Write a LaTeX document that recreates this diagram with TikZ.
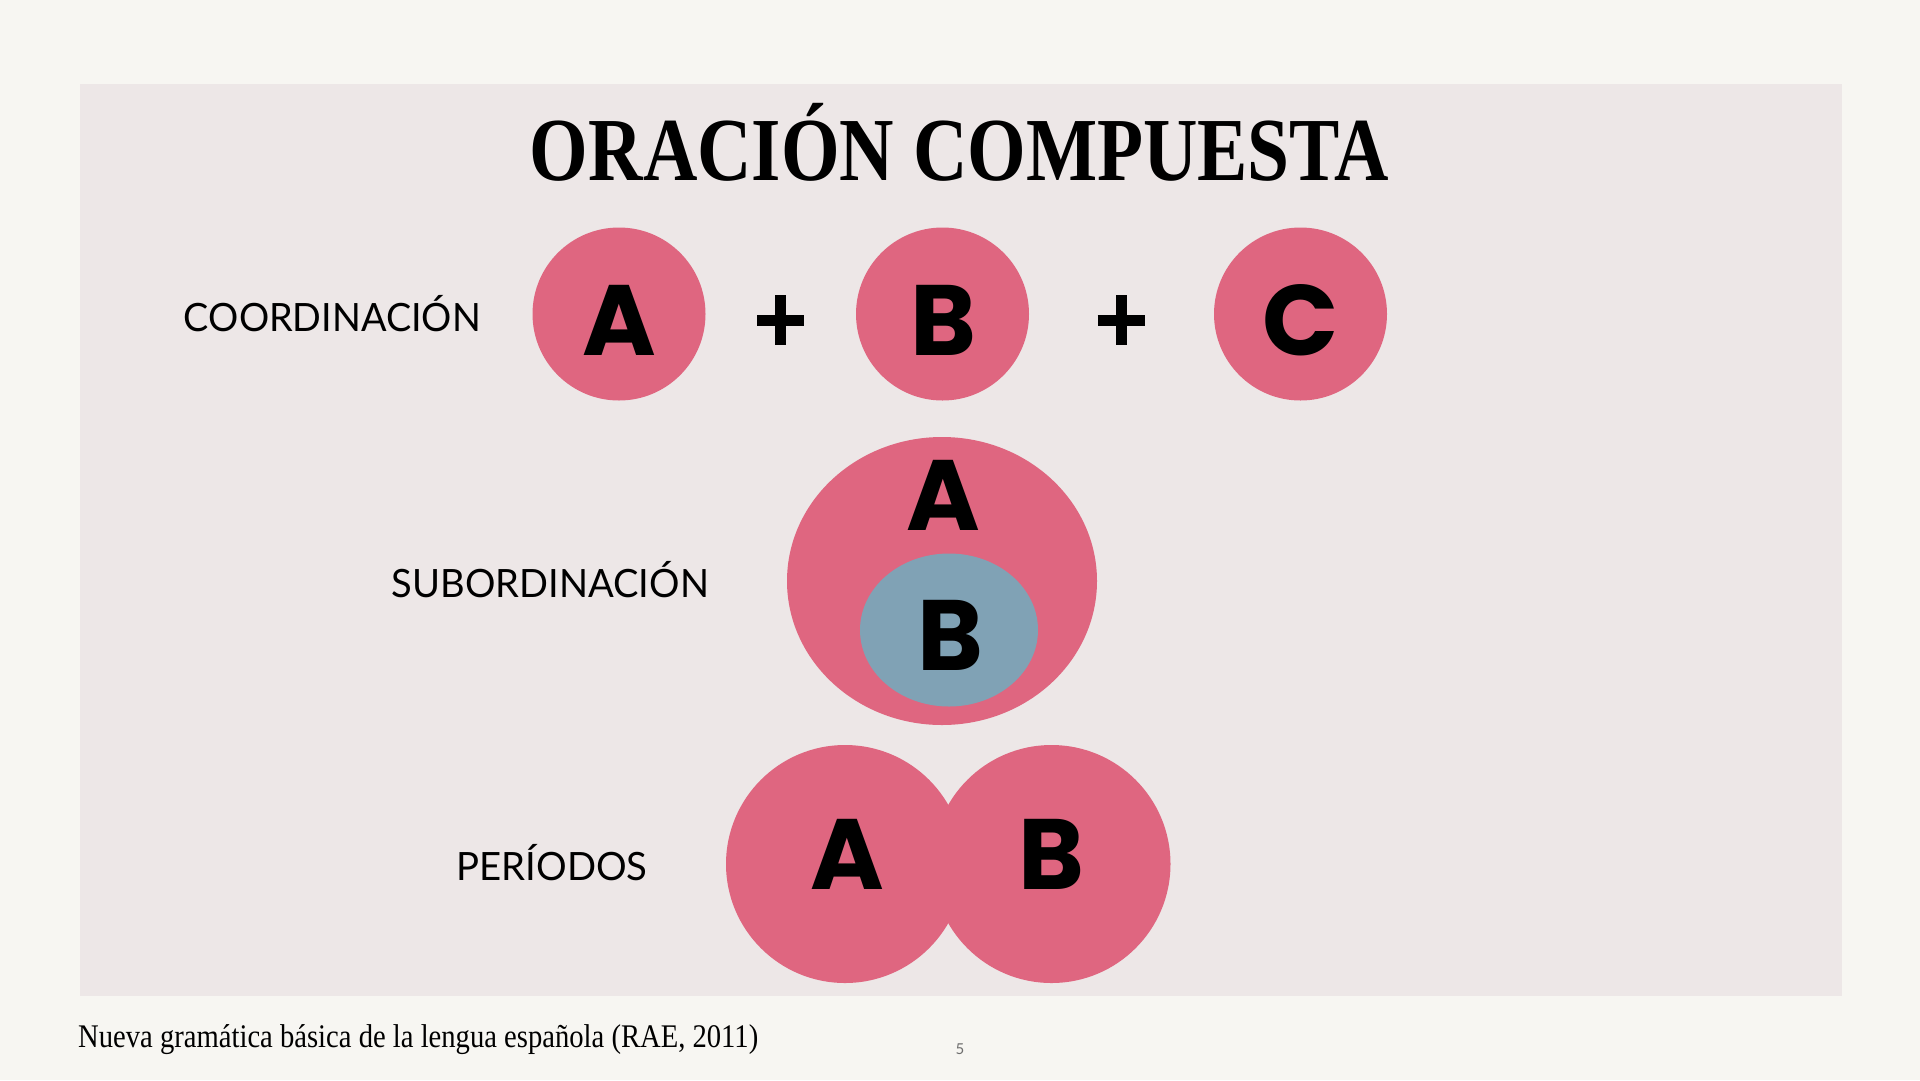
\documentclass[tikz,border=0pt]{standalone}
\usepackage{graphicx}
\usepackage{fontspec}
\setmainfont{Liberation Serif}
\newfontfamily\labelfont{Lato}
\newfontfamily\letterfont{Poppins}
\usetikzlibrary{shapes.geometric}
\definecolor{rosa}{HTML}{DF6680}
\definecolor{azul}{HTML}{80A2B5}
\definecolor{panelbg}{HTML}{EDE7E7}
\definecolor{outerbg}{HTML}{F7F6F2}
\definecolor{pagegray}{HTML}{6E6E6E}
\begin{document}
\begin{tikzpicture}[x=1pt,y=-1pt,
  bubble/.style={circle, fill=rosa, draw=none, inner sep=0pt, minimum size=173pt},
  letter/.style={inner sep=0pt, anchor=base, text=black, font=\letterfont\bfseries\fontsize{100}{100}\selectfont},
  lbl/.style={inner sep=0pt, anchor=base, text=black, font=\labelfont\fontsize{39}{39}\selectfont},
  plusline/.style={line width=11pt, black}]
\fill[outerbg] (0,0) rectangle (1920,1080);
\useasboundingbox (0,0) rectangle (1920,1080);
\fill[panelbg] (80,84) rectangle (1842,996);
% title
\node[inner sep=0pt, anchor=base] (title) at (959.5,180)
  {\resizebox{859pt}{\height}{\fontsize{90}{90}\selectfont\bfseries ORACIÓN COMPUESTA}};
% coordinacion
\node[lbl] (lcoord) at (332.5,331) {\resizebox{297pt}{\height}{COORDINACIÓN}};
\node[bubble] (cA) at (619,314) {};
\node[bubble] (cB) at (942.5,314) {};
\node[bubble] (cC) at (1300.5,314) {};
\node[letter] (tA) at (619.5,355) {A};
\node[letter] (tB) at (943.5,355) {B};
\node[letter] (tC) at (1301,355) {C};
\draw[plusline] (757,320) -- (804,320) (780.5,295) -- (780.5,345);
\draw[plusline] (1097.5,320) -- (1144.5,320) (1121,295) -- (1121,345);
% subordinacion
\node[lbl] (lsub) at (550.5,597) {\resizebox{317pt}{\height}{SUBORDINACIÓN}};
\node[ellipse, fill=rosa, draw=none, inner sep=0pt, minimum width=310pt, minimum height=288pt] (sub) at (942,581) {};
\node[ellipse, fill=azul, draw=none, inner sep=0pt, minimum width=178pt, minimum height=153pt] (subin) at (949,630) {};
\node[letter] (sA) at (943,530) {A};
\node[letter] (sB) at (950,670) {B};
% periodos
\node[lbl] (lper) at (552,880) {\resizebox{191pt}{\height}{PERÍODOS}};
\node[bubble, minimum size=238pt] (pA) at (845,864) {};
\node[bubble, minimum size=238pt] (pB) at (1051.5,864) {};
\node[letter] (pAt) at (847,889) {A};
\node[letter] (pBt) at (1051,889) {B};
% footer
\node[inner sep=0pt, anchor=base west] (foot) at (78,1047)
  {\resizebox{680pt}{\height}{\fontsize{33}{33}\selectfont Nueva gramática básica de la lengua española (RAE, 2011)}};
\node[inner sep=0pt, anchor=base, text=pagegray, font=\labelfont\fontsize{15}{15}\selectfont] (pg) at (960,1054) {5};
\end{tikzpicture}
\end{document}
